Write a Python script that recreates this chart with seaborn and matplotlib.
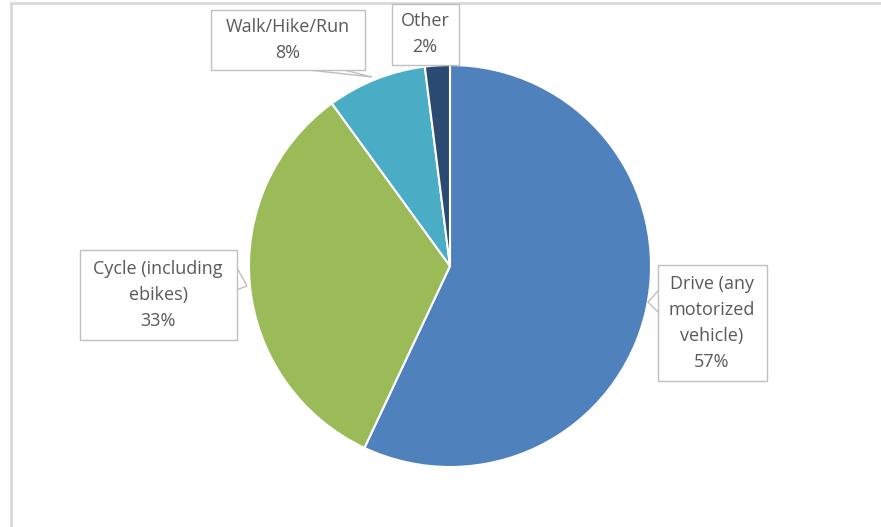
import matplotlib
matplotlib.use("Agg")
import matplotlib.pyplot as plt
import seaborn as sns
from matplotlib.patches import Rectangle, Polygon

# commute mode shares
labels = ["Drive (any\nmotorized\nvehicle)", "Cycle (including\nebikes)", "Walk/Hike/Run", "Other"]
shares = [57, 33, 8, 2]
colors = ["#4F81BD", "#9BBB59", "#4BACC6", "#2A4A72"]

sns.set_theme(style="white")
plt.rcParams["font.family"] = ["Open Sans", "DejaVu Sans"]

W, H = 881, 527
fig = plt.figure(figsize=(W / 100, H / 100), dpi=100)
ax = fig.add_axes([0, 0, 1, 1])

# chart area border (runs off the right and bottom of the picture)
ax.add_patch(Rectangle((11, -20), W + 20, H - 3 + 20, fill=False,
                       edgecolor="#D9D9D9", linewidth=2))

cx, cy, r = 450, H - 266, 201
ax.pie(shares, colors=colors, startangle=90, counterclock=False,
       center=(cx, cy), radius=r, frame=True,
       wedgeprops=dict(edgecolor="white", linewidth=1.5))
ax.set_xlim(0, W)
ax.set_ylim(0, H)
ax.set_aspect("equal")
ax.axis("off")

# label boxes: centre in pixels, size, pointer triangle
label_pos = [(712, 323), (158, 295), (288, 40), (425, 34)]
box_sizes = [(109, 116), (157, 90), (154, 60), (67, 61)]
pointers = [
    [(659, 290), (648, 302), (659, 313)],
    [(236, 266), (247, 286), (236, 290)],
    [(300, 69), (372, 77), (340, 69)],
    None,
]

for i, name in enumerate(labels):
    x, y = label_pos[i]
    bw, bh = box_sizes[i]
    if pointers[i] is not None:
        ax.add_patch(Polygon([(px, H - py) for px, py in pointers[i]], closed=True,
                             facecolor="white", edgecolor="#BFBFBF", linewidth=1, zorder=3))
    ax.add_patch(Rectangle((x - bw / 2, H - y - bh / 2), bw, bh, facecolor="white",
                           edgecolor="#BFBFBF", linewidth=1, zorder=4))
    ax.text(x, H - y, f"{name}\n{shares[i]}%", ha="center", va="center",
            fontsize=13, color="#595959", linespacing=1.55, zorder=5)

fig.savefig("out.png", dpi=100)
